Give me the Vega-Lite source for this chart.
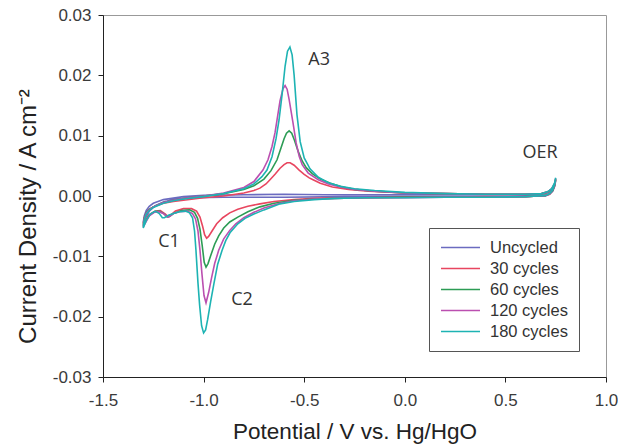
{
"$schema":"https://vega.github.io/schema/vega-lite/v6.json",
"width":503,"height":362,
"autosize":"none",
"padding":{"left":103,"top":15,"right":12,"bottom":68},
"background":"white",
"config":{"view":{"stroke":"#999","strokeWidth":1},
"axis":{"grid":false,"labelFont":"Liberation Sans","titleFont":"Liberation Sans","labelFontSize":17,"titleFontSize":22.5,"titleFontWeight":"normal","labelColor":"#3a3a3a","titleColor":"#222","domainColor":"#222","tickColor":"#222","tickSize":5,"labelFlush":false,"labelOverlap":false}},
"layer":[
{"data":{"values":[
{"s":"Uncycled","x":0.75,"y":0.0026},{"s":"Uncycled","x":0.745,"y":0.0016},{"s":"Uncycled","x":0.735,"y":0.0008},{"s":"Uncycled","x":0.72,"y":0.0003},{"s":"Uncycled","x":0.7,"y":0.0},{"s":"Uncycled","x":0.5,"y":-0.0001},{"s":"Uncycled","x":0.2,"y":-0.0001},{"s":"Uncycled","x":0.0,"y":-0.0001},{"s":"Uncycled","x":-0.3,"y":-0.0001},{"s":"Uncycled","x":-0.6,"y":-0.0002},{"s":"Uncycled","x":-0.9,"y":-0.0002},{"s":"Uncycled","x":-1.05,"y":-0.0003},{"s":"Uncycled","x":-1.15,"y":-0.0006},{"s":"Uncycled","x":-1.2,"y":-0.001},{"s":"Uncycled","x":-1.24,"y":-0.0016},{"s":"Uncycled","x":-1.27,"y":-0.0025},{"s":"Uncycled","x":-1.3,"y":-0.0044},{"s":"Uncycled","x":-1.295,"y":-0.0033},{"s":"Uncycled","x":-1.285,"y":-0.0024},{"s":"Uncycled","x":-1.27,"y":-0.0017},{"s":"Uncycled","x":-1.25,"y":-0.0012},{"s":"Uncycled","x":-1.2,"y":-0.0006},{"s":"Uncycled","x":-1.1,"y":-0.0001},{"s":"Uncycled","x":-1.0,"y":0.0001},{"s":"Uncycled","x":-0.8,"y":0.0002},{"s":"Uncycled","x":-0.6,"y":0.0003},{"s":"Uncycled","x":-0.4,"y":0.0002},{"s":"Uncycled","x":0.0,"y":0.0002},{"s":"Uncycled","x":0.4,"y":0.0002},{"s":"Uncycled","x":0.65,"y":0.0002},{"s":"Uncycled","x":0.7,"y":0.0004},{"s":"Uncycled","x":0.73,"y":0.0009},{"s":"Uncycled","x":0.745,"y":0.0018},{"s":"Uncycled","x":0.75,"y":0.0026},

{"s":"30 cycles","x":0.75,"y":0.0027},{"s":"30 cycles","x":0.745,"y":0.0017},{"s":"30 cycles","x":0.735,"y":0.0009},{"s":"30 cycles","x":0.72,"y":0.0003},{"s":"30 cycles","x":0.7,"y":0.0001},{"s":"30 cycles","x":0.6,"y":-0.0001},{"s":"30 cycles","x":0.4,"y":-0.0001},{"s":"30 cycles","x":0.2,"y":-0.0002},{"s":"30 cycles","x":0.0,"y":-0.0002},{"s":"30 cycles","x":-0.2,"y":-0.0003},{"s":"30 cycles","x":-0.35,"y":-0.0003},{"s":"30 cycles","x":-0.45,"y":-0.0004},{"s":"30 cycles","x":-0.55,"y":-0.0006},{"s":"30 cycles","x":-0.65,"y":-0.0009},{"s":"30 cycles","x":-0.72,"y":-0.0013},{"s":"30 cycles","x":-0.78,"y":-0.0017},{"s":"30 cycles","x":-0.83,"y":-0.0022},{"s":"30 cycles","x":-0.87,"y":-0.0028},{"s":"30 cycles","x":-0.905,"y":-0.0036},{"s":"30 cycles","x":-0.935,"y":-0.0046},{"s":"30 cycles","x":-0.958,"y":-0.0058},{"s":"30 cycles","x":-0.975,"y":-0.0067},{"s":"30 cycles","x":-0.985,"y":-0.007},{"s":"30 cycles","x":-0.995,"y":-0.0064},{"s":"30 cycles","x":-1.005,"y":-0.005},{"s":"30 cycles","x":-1.018,"y":-0.0035},{"s":"30 cycles","x":-1.035,"y":-0.0025},{"s":"30 cycles","x":-1.06,"y":-0.0021},{"s":"30 cycles","x":-1.1,"y":-0.0021},{"s":"30 cycles","x":-1.14,"y":-0.0025},{"s":"30 cycles","x":-1.165,"y":-0.0032},{"s":"30 cycles","x":-1.178,"y":-0.0034},{"s":"30 cycles","x":-1.19,"y":-0.003},{"s":"30 cycles","x":-1.215,"y":-0.0024},{"s":"30 cycles","x":-1.24,"y":-0.0025},{"s":"30 cycles","x":-1.27,"y":-0.0031},{"s":"30 cycles","x":-1.3,"y":-0.0046},{"s":"30 cycles","x":-1.295,"y":-0.0036},{"s":"30 cycles","x":-1.285,"y":-0.0028},{"s":"30 cycles","x":-1.27,"y":-0.0022},{"s":"30 cycles","x":-1.25,"y":-0.0018},{"s":"30 cycles","x":-1.2,"y":-0.0012},{"s":"30 cycles","x":-1.15,"y":-0.0009},{"s":"30 cycles","x":-1.1,"y":-0.0007},{"s":"30 cycles","x":-1.0,"y":-0.0003},{"s":"30 cycles","x":-0.9,"y":0.0},{"s":"30 cycles","x":-0.8,"y":0.0005},{"s":"30 cycles","x":-0.75,"y":0.0009},{"s":"30 cycles","x":-0.72,"y":0.0013},{"s":"30 cycles","x":-0.69,"y":0.002},{"s":"30 cycles","x":-0.67,"y":0.0027},{"s":"30 cycles","x":-0.645,"y":0.0036},{"s":"30 cycles","x":-0.62,"y":0.0046},{"s":"30 cycles","x":-0.6,"y":0.0052},{"s":"30 cycles","x":-0.585,"y":0.0055},{"s":"30 cycles","x":-0.57,"y":0.0055},{"s":"30 cycles","x":-0.55,"y":0.0051},{"s":"30 cycles","x":-0.525,"y":0.0043},{"s":"30 cycles","x":-0.5,"y":0.0036},{"s":"30 cycles","x":-0.475,"y":0.003},{"s":"30 cycles","x":-0.456,"y":0.0027},{"s":"30 cycles","x":-0.42,"y":0.0021},{"s":"30 cycles","x":-0.36,"y":0.0015},{"s":"30 cycles","x":-0.28,"y":0.0011},{"s":"30 cycles","x":-0.18,"y":0.0008},{"s":"30 cycles","x":0.0,"y":0.0005},{"s":"30 cycles","x":0.2,"y":0.0004},{"s":"30 cycles","x":0.4,"y":0.0003},{"s":"30 cycles","x":0.6,"y":0.0003},{"s":"30 cycles","x":0.68,"y":0.0004},{"s":"30 cycles","x":0.71,"y":0.0006},{"s":"30 cycles","x":0.73,"y":0.0011},{"s":"30 cycles","x":0.745,"y":0.0019},{"s":"30 cycles","x":0.75,"y":0.0027},

{"s":"60 cycles","x":0.75,"y":0.0028},{"s":"60 cycles","x":0.745,"y":0.0018},{"s":"60 cycles","x":0.735,"y":0.0009},{"s":"60 cycles","x":0.72,"y":0.0004},{"s":"60 cycles","x":0.7,"y":0.0001},{"s":"60 cycles","x":0.6,"y":-0.0001},{"s":"60 cycles","x":0.4,"y":-0.0002},{"s":"60 cycles","x":0.2,"y":-0.0002},{"s":"60 cycles","x":0.0,"y":-0.0002},{"s":"60 cycles","x":-0.2,"y":-0.0003},{"s":"60 cycles","x":-0.35,"y":-0.0004},{"s":"60 cycles","x":-0.45,"y":-0.0005},{"s":"60 cycles","x":-0.55,"y":-0.0007},{"s":"60 cycles","x":-0.65,"y":-0.0012},{"s":"60 cycles","x":-0.72,"y":-0.0018},{"s":"60 cycles","x":-0.78,"y":-0.0026},{"s":"60 cycles","x":-0.83,"y":-0.0035},{"s":"60 cycles","x":-0.87,"y":-0.0043},{"s":"60 cycles","x":-0.9,"y":-0.0053},{"s":"60 cycles","x":-0.925,"y":-0.0066},{"s":"60 cycles","x":-0.945,"y":-0.008},{"s":"60 cycles","x":-0.965,"y":-0.0099},{"s":"60 cycles","x":-0.978,"y":-0.0112},{"s":"60 cycles","x":-0.988,"y":-0.0118},{"s":"60 cycles","x":-0.997,"y":-0.011},{"s":"60 cycles","x":-1.007,"y":-0.0082},{"s":"60 cycles","x":-1.018,"y":-0.0055},{"s":"60 cycles","x":-1.03,"y":-0.0037},{"s":"60 cycles","x":-1.045,"y":-0.0027},{"s":"60 cycles","x":-1.07,"y":-0.0023},{"s":"60 cycles","x":-1.11,"y":-0.0024},{"s":"60 cycles","x":-1.15,"y":-0.0029},{"s":"60 cycles","x":-1.17,"y":-0.0034},{"s":"60 cycles","x":-1.18,"y":-0.0035},{"s":"60 cycles","x":-1.195,"y":-0.003},{"s":"60 cycles","x":-1.22,"y":-0.0025},{"s":"60 cycles","x":-1.245,"y":-0.0026},{"s":"60 cycles","x":-1.27,"y":-0.0032},{"s":"60 cycles","x":-1.3,"y":-0.0049},{"s":"60 cycles","x":-1.295,"y":-0.0037},{"s":"60 cycles","x":-1.285,"y":-0.0028},{"s":"60 cycles","x":-1.27,"y":-0.0022},{"s":"60 cycles","x":-1.25,"y":-0.0018},{"s":"60 cycles","x":-1.2,"y":-0.0011},{"s":"60 cycles","x":-1.15,"y":-0.0007},{"s":"60 cycles","x":-1.1,"y":-0.0004},{"s":"60 cycles","x":-1.0,"y":0.0},{"s":"60 cycles","x":-0.9,"y":0.0004},{"s":"60 cycles","x":-0.8,"y":0.0011},{"s":"60 cycles","x":-0.75,"y":0.0017},{"s":"60 cycles","x":-0.7,"y":0.0028},{"s":"60 cycles","x":-0.665,"y":0.0042},{"s":"60 cycles","x":-0.635,"y":0.006},{"s":"60 cycles","x":-0.615,"y":0.008},{"s":"60 cycles","x":-0.6,"y":0.0095},{"s":"60 cycles","x":-0.588,"y":0.0104},{"s":"60 cycles","x":-0.575,"y":0.0108},{"s":"60 cycles","x":-0.562,"y":0.0104},{"s":"60 cycles","x":-0.548,"y":0.0092},{"s":"60 cycles","x":-0.53,"y":0.0074},{"s":"60 cycles","x":-0.51,"y":0.0058},{"s":"60 cycles","x":-0.49,"y":0.0047},{"s":"60 cycles","x":-0.46,"y":0.0037},{"s":"60 cycles","x":-0.42,"y":0.0028},{"s":"60 cycles","x":-0.37,"y":0.0021},{"s":"60 cycles","x":-0.31,"y":0.0015},{"s":"60 cycles","x":-0.25,"y":0.0011},{"s":"60 cycles","x":-0.15,"y":0.0008},{"s":"60 cycles","x":0.0,"y":0.0005},{"s":"60 cycles","x":0.2,"y":0.0004},{"s":"60 cycles","x":0.4,"y":0.0003},{"s":"60 cycles","x":0.6,"y":0.0003},{"s":"60 cycles","x":0.68,"y":0.0004},{"s":"60 cycles","x":0.71,"y":0.0007},{"s":"60 cycles","x":0.73,"y":0.0011},{"s":"60 cycles","x":0.745,"y":0.002},{"s":"60 cycles","x":0.75,"y":0.0028},

{"s":"120 cycles","x":0.75,"y":0.0029},{"s":"120 cycles","x":0.745,"y":0.0019},{"s":"120 cycles","x":0.735,"y":0.001},{"s":"120 cycles","x":0.72,"y":0.0004},{"s":"120 cycles","x":0.7,"y":0.0001},{"s":"120 cycles","x":0.6,"y":-0.0001},{"s":"120 cycles","x":0.4,"y":-0.0002},{"s":"120 cycles","x":0.2,"y":-0.0002},{"s":"120 cycles","x":0.0,"y":-0.0003},{"s":"120 cycles","x":-0.2,"y":-0.0003},{"s":"120 cycles","x":-0.35,"y":-0.0004},{"s":"120 cycles","x":-0.45,"y":-0.0005},{"s":"120 cycles","x":-0.55,"y":-0.0008},{"s":"120 cycles","x":-0.62,"y":-0.0012},{"s":"120 cycles","x":-0.7,"y":-0.002},{"s":"120 cycles","x":-0.75,"y":-0.0027},{"s":"120 cycles","x":-0.8,"y":-0.0036},{"s":"120 cycles","x":-0.84,"y":-0.0046},{"s":"120 cycles","x":-0.87,"y":-0.0057},{"s":"120 cycles","x":-0.9,"y":-0.0071},{"s":"120 cycles","x":-0.925,"y":-0.009},{"s":"120 cycles","x":-0.945,"y":-0.0112},{"s":"120 cycles","x":-0.96,"y":-0.0135},{"s":"120 cycles","x":-0.975,"y":-0.016},{"s":"120 cycles","x":-0.988,"y":-0.0177},{"s":"120 cycles","x":-0.998,"y":-0.0165},{"s":"120 cycles","x":-1.008,"y":-0.013},{"s":"120 cycles","x":-1.018,"y":-0.009},{"s":"120 cycles","x":-1.028,"y":-0.0058},{"s":"120 cycles","x":-1.04,"y":-0.0038},{"s":"120 cycles","x":-1.055,"y":-0.0029},{"s":"120 cycles","x":-1.08,"y":-0.0025},{"s":"120 cycles","x":-1.12,"y":-0.0026},{"s":"120 cycles","x":-1.15,"y":-0.0029},{"s":"120 cycles","x":-1.17,"y":-0.0034},{"s":"120 cycles","x":-1.18,"y":-0.0035},{"s":"120 cycles","x":-1.195,"y":-0.003},{"s":"120 cycles","x":-1.22,"y":-0.0026},{"s":"120 cycles","x":-1.245,"y":-0.0027},{"s":"120 cycles","x":-1.27,"y":-0.0033},{"s":"120 cycles","x":-1.3,"y":-0.0051},{"s":"120 cycles","x":-1.295,"y":-0.0038},{"s":"120 cycles","x":-1.285,"y":-0.0029},{"s":"120 cycles","x":-1.27,"y":-0.0023},{"s":"120 cycles","x":-1.25,"y":-0.0018},{"s":"120 cycles","x":-1.2,"y":-0.0011},{"s":"120 cycles","x":-1.15,"y":-0.0007},{"s":"120 cycles","x":-1.1,"y":-0.0004},{"s":"120 cycles","x":-1.0,"y":0.0},{"s":"120 cycles","x":-0.9,"y":0.0005},{"s":"120 cycles","x":-0.8,"y":0.0014},{"s":"120 cycles","x":-0.75,"y":0.0024},{"s":"120 cycles","x":-0.705,"y":0.0043},{"s":"120 cycles","x":-0.68,"y":0.006},{"s":"120 cycles","x":-0.66,"y":0.0082},{"s":"120 cycles","x":-0.645,"y":0.0105},{"s":"120 cycles","x":-0.635,"y":0.0126},{"s":"120 cycles","x":-0.62,"y":0.0158},{"s":"120 cycles","x":-0.605,"y":0.0178},{"s":"120 cycles","x":-0.595,"y":0.0183},{"s":"120 cycles","x":-0.585,"y":0.0177},{"s":"120 cycles","x":-0.575,"y":0.016},{"s":"120 cycles","x":-0.556,"y":0.0122},{"s":"120 cycles","x":-0.54,"y":0.0088},{"s":"120 cycles","x":-0.525,"y":0.0066},{"s":"120 cycles","x":-0.51,"y":0.0052},{"s":"120 cycles","x":-0.48,"y":0.0038},{"s":"120 cycles","x":-0.43,"y":0.0027},{"s":"120 cycles","x":-0.38,"y":0.002},{"s":"120 cycles","x":-0.32,"y":0.0015},{"s":"120 cycles","x":-0.25,"y":0.0011},{"s":"120 cycles","x":-0.15,"y":0.0008},{"s":"120 cycles","x":0.0,"y":0.0005},{"s":"120 cycles","x":0.2,"y":0.0004},{"s":"120 cycles","x":0.4,"y":0.0003},{"s":"120 cycles","x":0.6,"y":0.0003},{"s":"120 cycles","x":0.68,"y":0.0004},{"s":"120 cycles","x":0.71,"y":0.0007},{"s":"120 cycles","x":0.73,"y":0.0012},{"s":"120 cycles","x":0.745,"y":0.0021},{"s":"120 cycles","x":0.75,"y":0.0029},

{"s":"180 cycles","x":0.75,"y":0.003},{"s":"180 cycles","x":0.745,"y":0.002},{"s":"180 cycles","x":0.735,"y":0.001},{"s":"180 cycles","x":0.72,"y":0.0004},{"s":"180 cycles","x":0.7,"y":0.0001},{"s":"180 cycles","x":0.6,"y":-0.0001},{"s":"180 cycles","x":0.4,"y":-0.0002},{"s":"180 cycles","x":0.2,"y":-0.0002},{"s":"180 cycles","x":0.0,"y":-0.0003},{"s":"180 cycles","x":-0.2,"y":-0.0003},{"s":"180 cycles","x":-0.35,"y":-0.0004},{"s":"180 cycles","x":-0.45,"y":-0.0006},{"s":"180 cycles","x":-0.55,"y":-0.0009},{"s":"180 cycles","x":-0.62,"y":-0.0013},{"s":"180 cycles","x":-0.7,"y":-0.0023},{"s":"180 cycles","x":-0.75,"y":-0.003},{"s":"180 cycles","x":-0.794,"y":-0.0037},{"s":"180 cycles","x":-0.83,"y":-0.0046},{"s":"180 cycles","x":-0.869,"y":-0.0061},{"s":"180 cycles","x":-0.89,"y":-0.0074},{"s":"180 cycles","x":-0.908,"y":-0.009},{"s":"180 cycles","x":-0.93,"y":-0.0113},{"s":"180 cycles","x":-0.948,"y":-0.0144},{"s":"180 cycles","x":-0.965,"y":-0.0175},{"s":"180 cycles","x":-0.98,"y":-0.0205},{"s":"180 cycles","x":-0.99,"y":-0.0222},{"s":"180 cycles","x":-1.0,"y":-0.0227},{"s":"180 cycles","x":-1.01,"y":-0.0215},{"s":"180 cycles","x":-1.02,"y":-0.018},{"s":"180 cycles","x":-1.028,"y":-0.0144},{"s":"180 cycles","x":-1.038,"y":-0.009},{"s":"180 cycles","x":-1.045,"y":-0.0058},{"s":"180 cycles","x":-1.055,"y":-0.0036},{"s":"180 cycles","x":-1.07,"y":-0.0028},{"s":"180 cycles","x":-1.09,"y":-0.0025},{"s":"180 cycles","x":-1.12,"y":-0.0026},{"s":"180 cycles","x":-1.15,"y":-0.0029},{"s":"180 cycles","x":-1.175,"y":-0.0032},{"s":"180 cycles","x":-1.195,"y":-0.0036},{"s":"180 cycles","x":-1.205,"y":-0.0036},{"s":"180 cycles","x":-1.22,"y":-0.0029},{"s":"180 cycles","x":-1.24,"y":-0.0025},{"s":"180 cycles","x":-1.265,"y":-0.003},{"s":"180 cycles","x":-1.285,"y":-0.004},{"s":"180 cycles","x":-1.3,"y":-0.0053},{"s":"180 cycles","x":-1.295,"y":-0.004},{"s":"180 cycles","x":-1.285,"y":-0.003},{"s":"180 cycles","x":-1.27,"y":-0.0024},{"s":"180 cycles","x":-1.25,"y":-0.0019},{"s":"180 cycles","x":-1.2,"y":-0.0012},{"s":"180 cycles","x":-1.15,"y":-0.0008},{"s":"180 cycles","x":-1.1,"y":-0.0005},{"s":"180 cycles","x":-1.0,"y":-0.0001},{"s":"180 cycles","x":-0.9,"y":0.0004},{"s":"180 cycles","x":-0.8,"y":0.0012},{"s":"180 cycles","x":-0.75,"y":0.002},{"s":"180 cycles","x":-0.71,"y":0.0032},{"s":"180 cycles","x":-0.685,"y":0.0043},{"s":"180 cycles","x":-0.66,"y":0.0065},{"s":"180 cycles","x":-0.64,"y":0.0095},{"s":"180 cycles","x":-0.625,"y":0.0126},{"s":"180 cycles","x":-0.61,"y":0.0168},{"s":"180 cycles","x":-0.595,"y":0.0215},{"s":"180 cycles","x":-0.583,"y":0.024},{"s":"180 cycles","x":-0.571,"y":0.0247},{"s":"180 cycles","x":-0.56,"y":0.0234},{"s":"180 cycles","x":-0.55,"y":0.02},{"s":"180 cycles","x":-0.536,"y":0.0135},{"s":"180 cycles","x":-0.52,"y":0.009},{"s":"180 cycles","x":-0.5,"y":0.0063},{"s":"180 cycles","x":-0.471,"y":0.0045},{"s":"180 cycles","x":-0.43,"y":0.0031},{"s":"180 cycles","x":-0.38,"y":0.0022},{"s":"180 cycles","x":-0.32,"y":0.0016},{"s":"180 cycles","x":-0.25,"y":0.0012},{"s":"180 cycles","x":-0.15,"y":0.0009},{"s":"180 cycles","x":0.0,"y":0.0006},{"s":"180 cycles","x":0.2,"y":0.0004},{"s":"180 cycles","x":0.4,"y":0.0003},{"s":"180 cycles","x":0.6,"y":0.0003},{"s":"180 cycles","x":0.68,"y":0.0004},{"s":"180 cycles","x":0.71,"y":0.0007},{"s":"180 cycles","x":0.73,"y":0.0012},{"s":"180 cycles","x":0.745,"y":0.0022},{"s":"180 cycles","x":0.75,"y":0.003}
]},
"mark":{"type":"line","strokeWidth":1.6,"clip":true},
"encoding":{
"x":{"field":"x","type":"quantitative","scale":{"domain":[-1.5,1.0],"nice":false,"zero":false},"axis":{"title":"Potential / V vs. Hg/HgO","values":[-1.5,-1,-0.5,0,0.5,1],"labelExpr":"replace(format(datum.value,'.1f'),'−','-')","labelPadding":10,"titlePadding":12}},
"y":{"field":"y","type":"quantitative","scale":{"domain":[-0.03,0.03],"nice":false,"zero":false},"axis":{"title":"Current Density / A cm⁻²","titleFontSize":24,"values":[-0.03,-0.02,-0.01,0,0.01,0.02,0.03],"labelExpr":"replace(format(datum.value,'.2f'),'−','-')","labelPadding":7,"titleX":-75,"titleY":201,"titleAngle":-90,"titleAlign":"center","titleBaseline":"middle"}},
"color":{"field":"s","type":"nominal","scale":{"domain":["Uncycled","30 cycles","60 cycles","120 cycles","180 cycles"],"range":["#6b6bc0","#e8465f","#2c9c55","#bb4fb0","#1db3b3"]},
"legend":{"orient":"none","legendX":326,"legendY":213,"title":null,"symbolType":"stroke","symbolSize":1521,"symbolStrokeWidth":1.5,"labelFont":"Liberation Sans","labelFontSize":16.5,"labelColor":"#333","strokeColor":"#555","fillColor":"white","padding":11,"clipHeight":17,"rowPadding":4,"labelOffset":9}},
"order":{"value":null}
}},
{"data":{"values":[{"t":"A3","x":-0.426,"y":0.0225},{"t":"C1","x":-1.172,"y":-0.0076},{"t":"C2","x":-0.809,"y":-0.0172},{"t":"OER","x":0.672,"y":0.0071}]},
"mark":{"type":"text","font":"Open Sans","fontSize":18,"color":"#333"},
"encoding":{"x":{"field":"x","type":"quantitative"},"y":{"field":"y","type":"quantitative"},"text":{"field":"t"}}}
]
}
